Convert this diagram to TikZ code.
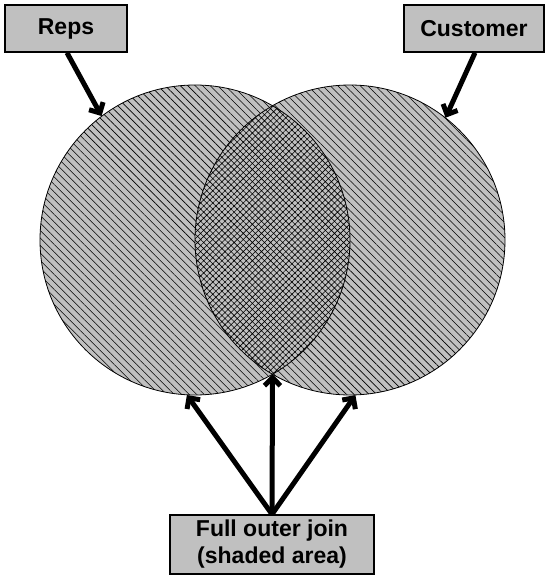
\documentclass[tikz,border=0pt]{standalone}
\usepackage{fontspec}
\setmainfont{Liberation Sans}
\usetikzlibrary{patterns.meta,arrows.meta}
\definecolor{boxgray}{HTML}{C0C0C0}
\tikzset{
  labelbox/.style={draw=black,line width=1.5pt,fill=boxgray,inner sep=0pt,
    font=\fontsize{23}{27}\selectfont\bfseries,align=center},
  setcircle/.style={circle,minimum size=310pt,inner sep=0pt},
  pointer/.style={line width=5pt,-{Straight Barb[length=8pt,width=16pt]}},
  onelines/.style={pattern={Lines[angle=-45,distance=5.3pt,line width=0.6pt]},pattern color=black},
  crosslines/.style={pattern={Hatch[angle=45,distance=4.3pt,line width=0.6pt]},pattern color=black}
}
\begin{document}
\begin{tikzpicture}[x=1pt,y=1pt]
\useasboundingbox[fill=white] (0,0) rectangle (550,-580);
% circles
\node[setcircle,fill=boxgray] (L) at (195,-240) {};
\node[setcircle,fill=boxgray] (R) at (350,-240) {};
\path[onelines] (195,-240) circle[radius=155];
\path[onelines] (350,-240) circle[radius=155];
\begin{scope}
  \clip (195,-240) circle[radius=155];
  \fill[boxgray] (350,-240) circle[radius=155];
  \path[crosslines] (350,-240) circle[radius=155];
\end{scope}
\draw[line width=0.8pt] (195,-240) circle[radius=155];
\draw[line width=0.8pt] (350,-240) circle[radius=155];
\coordinate (lensbottom) at (272.5,-374.2);
% boxes
\node[labelbox,minimum width=122pt,minimum height=47pt] (reps) at (66,-28.5) {Reps};
\node[labelbox,minimum width=140pt,minimum height=47pt] (cust) at (474,-28.5) {Customer};
\node[labelbox,minimum width=204pt,minimum height=59pt] (full) at (272,-544.5) {Full outer join\\(shaded area)};
% arrows
\draw[pointer] (reps.south) ++(1,0) -- (L.127);
\draw[pointer] (cust.south) ++(1,0) -- (R.52.6);
\draw[pointer] (full.north) -- (L.267.5);
\draw[pointer] (full.north) -- (lensbottom);
\draw[pointer] (full.north) -- (R.272);
\end{tikzpicture}
\end{document}
